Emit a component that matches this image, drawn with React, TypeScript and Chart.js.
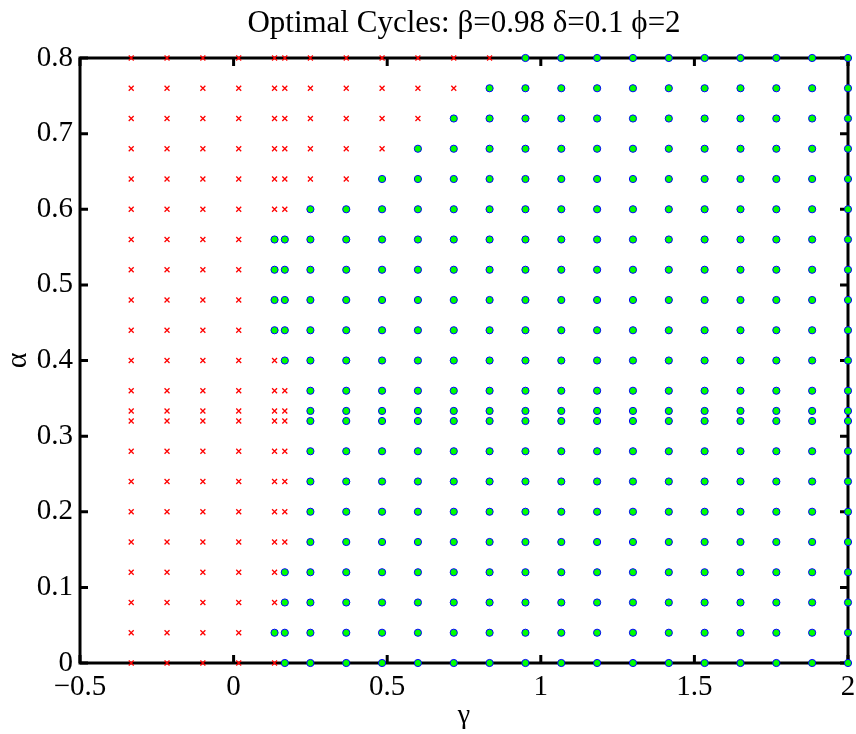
import { useEffect, useRef } from "react";
import { Chart, registerables } from "chart.js";

Chart.register(...registerables);

// Parameter grid: gamma columns and alpha rows
const gammaGrid = [
  -0.3333, -0.2167, -0.1, 0.0167, 0.1333, 0.1667, 0.25, 0.3667, 0.4833, 0.6, 0.7167,
  0.8333, 0.95, 1.0667, 1.1833, 1.3, 1.4167, 1.5333, 1.65, 1.7667, 1.8833, 2.0,
];
const alphaGrid = [
  0, 0.04, 0.08, 0.12, 0.16, 0.2, 0.24, 0.28, 0.32, 0.3333, 0.36, 0.4, 0.44, 0.48,
  0.52, 0.56, 0.6, 0.64, 0.68, 0.72, 0.76, 0.8,
];
// For each alpha row: how many gamma columns (from the left) have no optimal cycle
const noCycleCount = [5, 4, 5, 5, 6, 6, 6, 6, 6, 6, 6, 5, 4, 4, 4, 4, 6, 8, 9, 10, 11, 12];

const xTickValues = [-0.5, 0, 0.5, 1, 1.5, 2];
const xTickLabels = ["−0.5", "0", "0.5", "1", "1.5", "2"];
const yTickValues = [0, 0.1, 0.2, 0.3, 0.4, 0.5, 0.6, 0.7, 0.8];
const yTickLabels = ["0", "0.1", "0.2", "0.3", "0.4", "0.5", "0.6", "0.7", "0.8"];

const titleText = "Optimal Cycles: β=0.98 δ=0.1 ϕ=2";
const xLabel = "γ";
const yLabel = "α";

const FONT = "'Liberation Serif', 'Times New Roman', serif";

const noCyclePoints: { x: number; y: number }[] = [];
const cyclePoints: { x: number; y: number }[] = [];
alphaGrid.forEach((a, i) => {
  gammaGrid.forEach((g, j) => {
    if (j < noCycleCount[i]) noCyclePoints.push({ x: g, y: a });
    else cyclePoints.push({ x: g, y: a });
  });
});

// Box frame with inward tick marks on all four sides
const framePlugin = {
  id: "boxFrame",
  beforeDatasetsDraw(chart: any) {
    const { ctx, chartArea: a, scales } = chart;
    const len = 8;
    ctx.save();
    ctx.strokeStyle = "#000";
    ctx.lineWidth = 3;
    ctx.lineCap = "butt";
    ctx.beginPath();
    xTickValues.forEach((v) => {
      const px = scales.x.getPixelForValue(v);
      ctx.moveTo(px, a.bottom);
      ctx.lineTo(px, a.bottom - len);
      ctx.moveTo(px, a.top);
      ctx.lineTo(px, a.top + len);
    });
    yTickValues.forEach((v) => {
      const py = scales.y.getPixelForValue(v);
      ctx.moveTo(a.left, py);
      ctx.lineTo(a.left + len, py);
      ctx.moveTo(a.right, py);
      ctx.lineTo(a.right - len, py);
    });
    ctx.stroke();
    ctx.lineJoin = "miter";
    ctx.strokeRect(a.left, a.top, a.right - a.left, a.bottom - a.top);
    ctx.restore();
  },
};

export default function App() {
  const canvasRef = useRef<HTMLCanvasElement | null>(null);

  useEffect(() => {
    document.body.style.margin = "0";
    const canvas = canvasRef.current;
    if (!canvas) return;
    const chart = new Chart(canvas, {
      type: "scatter",
      data: {
        datasets: [
          {
            label: "no cycle",
            data: noCyclePoints,
            pointStyle: "crossRot",
            pointRadius: 3.5,
            borderColor: "#ff0000",
            backgroundColor: "#ff0000",
            borderWidth: 1.3,
            clip: false,
          },
          {
            label: "cycle",
            data: cyclePoints,
            pointStyle: "circle",
            pointRadius: 3.6,
            backgroundColor: "#00ff00",
            borderColor: "#0000ff",
            borderWidth: 1,
            clip: false,
          },
        ],
      },
      options: {
        animation: false,
        responsive: false,
        devicePixelRatio: 1,
        events: [],
        layout: { padding: { left: 0, right: 8, top: 0, bottom: 0 } },
        plugins: {
          legend: { display: false },
          tooltip: { enabled: false },
          title: {
            display: true,
            text: titleText,
            fullSize: false,
            color: "#000",
            font: { family: FONT, size: 31, weight: "normal" },
            padding: { top: 5.5, bottom: 15.3 },
          },
        },
        scales: {
          x: {
            type: "linear",
            min: -0.5,
            max: 2,
            grid: { display: false, drawTicks: false, tickLength: 0 },
            border: { display: false },
            afterBuildTicks: (s: any) => {
              s.ticks = xTickValues.map((v) => ({ value: v }));
            },
            afterFit: (s: any) => {
              s.height = 71;
              s.paddingLeft = 0;
              s.paddingRight = 0;
            },
            ticks: {
              autoSkip: false,
              maxRotation: 0,
              color: "#000",
              padding: 6.8,
              font: { family: FONT, size: 29 },
              callback: (_v: any, i: number) => xTickLabels[i],
            },
            title: {
              display: true,
              text: xLabel,
              color: "#000",
              font: { family: FONT, size: 28 },
              padding: { top: 0, bottom: 2 },
            },
          },
          y: {
            type: "linear",
            min: 0,
            max: 0.8,
            grid: { display: false, drawTicks: false, tickLength: 0 },
            border: { display: false },
            afterBuildTicks: (s: any) => {
              s.ticks = yTickValues.map((v) => ({ value: v }));
            },
            afterFit: (s: any) => {
              s.width = 80;
              s.paddingTop = 0;
              s.paddingBottom = 0;
            },
            ticks: {
              autoSkip: false,
              color: "#000",
              padding: 7,
              font: { family: FONT, size: 29 },
              callback: (_v: any, i: number) => yTickLabels[i],
            },
            title: {
              display: true,
              text: yLabel,
              color: "#000",
              font: { family: FONT, size: 30 },
              padding: { top: 0, bottom: 0 },
            },
          },
        },
      },
      plugins: [framePlugin],
    });
    return () => chart.destroy();
  }, []);

  return (
    <div style={{ width: 856, height: 734, background: "#fff" }}>
      <canvas ref={canvasRef} width={856} height={734} style={{ display: "block" }} />
    </div>
  );
}
